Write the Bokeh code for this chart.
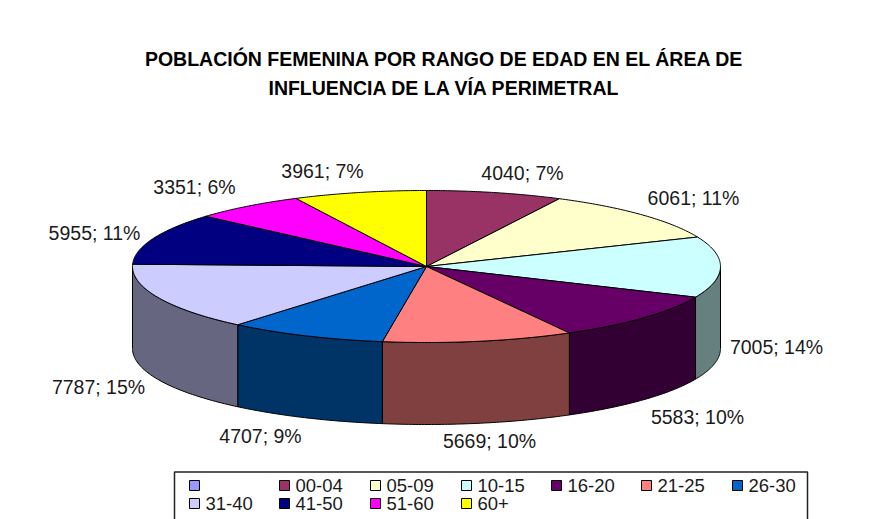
import numpy as np
from bokeh.embed import file_html
from bokeh.resources import INLINE
from bokeh.plotting import figure
from bokeh.core.properties import value

TITLE = ["POBLACIÓN FEMENINA POR RANGO DE EDAD EN EL ÁREA DE",
         "INFLUENCIA DE LA VÍA PERIMETRAL"]
categories = ["00-04", "05-09", "10-15", "16-20", "21-25", "26-30",
              "31-40", "41-50", "51-60", "60+"]
values = [4040, 6061, 7005, 5583, 5669, 4707, 7787, 5955, 3351, 3961]
percents = ["7%", "11%", "14%", "10%", "10%", "9%", "15%", "11%", "6%", "7%"]
colors = ["#993366", "#FFFFCC", "#CCFFFF", "#660066", "#FF8080", "#0066CC",
          "#CCCCFF", "#000080", "#FF00FF", "#FFFF00"]
wall_colors = ["#4D1A33", "#808066", "#668080", "#330033", "#804040", "#003366",
               "#666680", "#000040", "#800080", "#808000"]
legend_labels = [""] + categories
legend_colors = ["#9999FF"] + colors

W, H = 886, 519
CX, CY, RX, RY, DEPTH = 426, 266, 294, 76, 82
LABEL_POS = [(522, 172), (693, 197), (776, 346), (697, 416), (489, 440),
             (260, 435), (98, 386), (94, 232), (194, 186), (322, 170)]
FONT = "Liberation Sans"

p = figure(width=W, height=H, x_range=(0, W), y_range=(H, 0),
           output_backend="svg", toolbar_location=None, min_border=0,
           outline_line_color=None, background_fill_color="white")
p.xaxis.visible = False
p.yaxis.visible = False
p.grid.visible = False


def ell(t, dy=0.0):
    return CX + RX * np.sin(t), CY - RY * np.cos(t) + dy


cum = np.cumsum([0] + values) / sum(values) * 2 * np.pi

wx, wy, wc = [], [], []
for i in range(len(values)):
    a, b = max(cum[i], np.pi / 2), min(cum[i + 1], 3 * np.pi / 2)
    if b <= a:
        continue
    t = np.linspace(a, b, 60)
    x0, y0 = ell(t)
    x1, y1 = ell(t[::-1], DEPTH)
    wx.append(np.r_[x0, x1].tolist())
    wy.append(np.r_[y0, y1].tolist())
    wc.append(wall_colors[i])
p.patches(wx, wy, fill_color=wc, line_color="black", line_width=1)

tx, ty = [], []
for i in range(len(values)):
    t = np.linspace(cum[i], cum[i + 1], 60)
    x0, y0 = ell(t)
    tx.append(np.r_[CX, x0].tolist())
    ty.append(np.r_[CY, y0].tolist())
p.patches(tx, ty, fill_color=colors, line_color="black", line_width=1)

labels = [f"{v}; {q}" for v, q in zip(values, percents)]
p.text([q[0] for q in LABEL_POS], [q[1] for q in LABEL_POS], text=labels,
       text_font=value(FONT), text_font_size="19.5px", text_color="#1a1a1a",
       text_align="center", text_baseline="middle")

p.text([444, 444], [58, 87], text=TITLE, text_font=value(FONT),
       text_font_size="19.5px", text_font_style="bold", text_color="black",
       text_align="center", text_baseline="middle")

p.quad(left=[174], right=[807], top=[471.5], bottom=[H + 5],
       fill_color="white", line_color="#222222", line_width=1.5)
COLS = [194, 284, 375, 466, 556, 646, 737]
ROWS = [485, 503]
lx = [COLS[i % 7] for i in range(len(legend_labels))]
ly = [ROWS[i // 7] for i in range(len(legend_labels))]
p.rect(lx, ly, width=10, height=10, fill_color=legend_colors, line_color="black", line_width=1)
p.text([x + 11 for x in lx], ly, text=legend_labels, text_font=value(FONT),
       text_font_size="18.5px", text_color="#1a1a1a", text_align="left",
       text_baseline="middle")

open("out.html", "w").write(file_html(p, INLINE))
